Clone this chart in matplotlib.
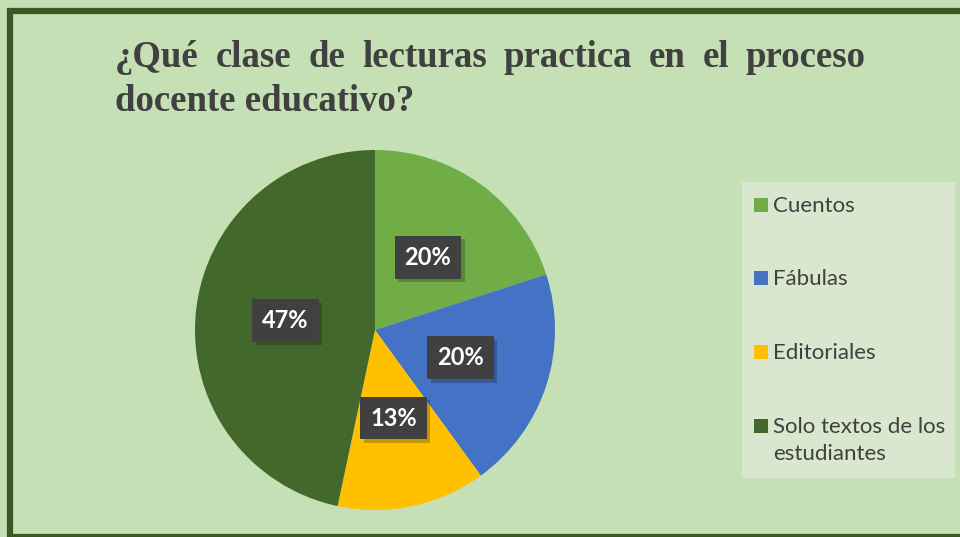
import numpy as np
import matplotlib
matplotlib.use("Agg")
from matplotlib import pyplot as plt
from matplotlib import patheffects
from matplotlib.patches import Rectangle

# respuestas (15 docentes)
categorias = ["Cuentos", "Fábulas", "Editoriales", "Solo textos de los\nestudiantes"]
valores = [3, 3, 2, 7]
colores = ["#70AD47", "#4472C4", "#FFC000", "#43682B"]
titulo_l1 = "¿Qué clase de lecturas practica en el proceso"
titulo_l2 = "docente educativo?"

W, H = 960, 537
fig = plt.figure(figsize=(W / 100, H / 100), dpi=100)
fig.patch.set_facecolor("#C5E0B4")

def px(x, y):
    return x / W, 1 - y / H

# marco verde oscuro
fig.patches.append(Rectangle(px(10, 537), (970 - 10) / W, (537 - 11) / H,
                             transform=fig.transFigure, fill=False,
                             edgecolor="#3A5A23", linewidth=4.5, zorder=0))

# pie
cx, cy, R = 375, 330, 180
ax = fig.add_axes([(cx - R) / W, (H - cy - R) / H, 2 * R / W, 2 * R / H])
ax.set_facecolor("none")
wedges, _, autotexts = ax.pie(valores, colors=colores, startangle=90, counterclock=False,
                              autopct="%1.0f%%", pctdistance=0.5,
                              wedgeprops=dict(linewidth=0))
ax.set_xlim(-1, 1)
ax.set_ylim(-1, 1)
ax.set_aspect("equal")
ax.axis("off")
for t in autotexts:
    t.set_color("white")
    t.set_fontsize(17)
    t.set_fontweight("bold")
    t.set_family("Lato")
    t.set_bbox(dict(boxstyle="square,pad=0.42", facecolor="#404040", edgecolor="none"))
    t.get_bbox_patch().set_path_effects([
        patheffects.withSimplePatchShadow(offset=(2.5, -2.5), shadow_rgbFace="black", alpha=0.22)])

# titulo justificado
renderer = fig.canvas.get_renderer()
palabras = titulo_l1.split(" ")
objs = []
for w in palabras:
    objs.append(fig.text(0, 0, w, fontsize=26.5, fontweight="bold", family="Liberation Serif",
                         color="#404040", va="baseline", ha="left"))
anchos = [o.get_window_extent(renderer).width for o in objs]
x0, x1 = 115, 866
hueco = (x1 - x0 - sum(anchos)) / (len(palabras) - 1)
x = x0
for o, a in zip(objs, anchos):
    o.set_position(px(x, 67))
    x += a + hueco
fig.text(*px(115, 111), titulo_l2, fontsize=26.5, fontweight="bold", family="Liberation Serif",
         color="#404040", va="baseline", ha="left")

# leyenda
fig.patches.append(Rectangle(px(742, 478), (955 - 742) / W, (478 - 182) / H,
                             transform=fig.transFigure, facecolor="#D8E7CE",
                             edgecolor="none", zorder=1))
ys = [205, 278, 352, 426]
for cat, col, y in zip(categorias, colores, ys):
    fig.patches.append(Rectangle(px(754, y + 7), 14 / W, 14 / H, transform=fig.transFigure,
                                 facecolor=col, edgecolor="none", zorder=2))
    fig.text(*px(773, y - 9), cat, fontsize=16, family="Lato", color="#404040",
             va="top", ha="left", linespacing=1.45, zorder=3)

fig.savefig("out.png", dpi=100, facecolor=fig.get_facecolor())
